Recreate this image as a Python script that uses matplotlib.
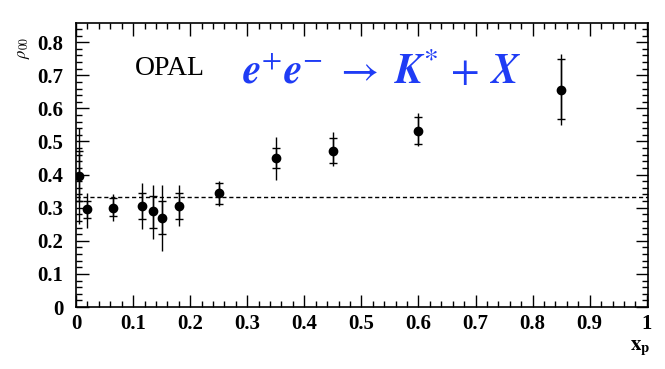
import numpy as np
import matplotlib
matplotlib.use("Agg")
import matplotlib.pyplot as plt
from matplotlib.ticker import MultipleLocator

# rho_00 vs x_p (OPAL K*)
xp        = [0.005, 0.02, 0.065, 0.115, 0.135, 0.15, 0.18, 0.25, 0.35, 0.45, 0.60, 0.85]
rho       = [0.395, 0.295, 0.300, 0.305, 0.290, 0.270, 0.305, 0.345, 0.450, 0.470, 0.532, 0.657]
stat_lo   = [0.320, 0.270, 0.275, 0.265, 0.240, 0.220, 0.265, 0.310, 0.420, 0.435, 0.491, 0.567]
stat_hi   = [0.470, 0.320, 0.330, 0.345, 0.335, 0.320, 0.345, 0.375, 0.480, 0.510, 0.574, 0.749]
tot_lo    = [0.250, 0.240, 0.260, 0.235, 0.205, 0.170, 0.245, 0.305, 0.385, 0.425, 0.485, 0.551]
tot_hi    = [0.540, 0.345, 0.340, 0.375, 0.370, 0.370, 0.370, 0.380, 0.515, 0.530, 0.585, 0.765]
rho_unpol = 1.0 / 3.0

xp = np.array(xp); rho = np.array(rho)
stat_err = [rho - np.array(stat_lo), np.array(stat_hi) - rho]
tot_err = [rho - np.array(tot_lo), np.array(tot_hi) - rho]

serif = "Liberation Serif"
fig = plt.figure(figsize=(6.65, 3.69), dpi=100)
ax = fig.add_axes([0.1143, 0.168, 0.86, 0.7697])

ax.axhline(rho_unpol, color="black", lw=1.0, ls=(0, (3, 2)))
ax.errorbar(xp, rho, yerr=tot_err, fmt="none", ecolor="black", elinewidth=1.0)
ax.errorbar(xp, rho, yerr=stat_err, fmt="o", color="black", ms=6,
            ecolor="black", elinewidth=1.0, capsize=3, capthick=1.0)

ax.set_xlim(0, 1.002)
ax.set_ylim(0, 0.858)
ax.xaxis.set_minor_locator(MultipleLocator(0.02))
ax.yaxis.set_minor_locator(MultipleLocator(0.02))
ax.tick_params(which="both", direction="in", top=True, right=True, width=1.0)
ax.tick_params(which="major", length=9)
ax.tick_params(which="minor", length=4)
for s in ax.spines.values():
    s.set_linewidth(1.2)

ax.set_xticks(np.arange(0, 1.01, 0.1))
ax.set_xticklabels(["0", "0.1", "0.2", "0.3", "0.4", "0.5", "0.6", "0.7", "0.8", "0.9", "1"])
ax.set_yticks(np.arange(0, 0.81, 0.1))
ax.set_yticklabels(["0", "0.1", "0.2", "0.3", "0.4", "0.5", "0.6", "0.7", "0.8"])
for lab in ax.get_xticklabels() + ax.get_yticklabels():
    lab.set_fontfamily(serif)
    lab.set_fontweight("bold")
    lab.set_fontsize(15)
ax.tick_params(axis="x", pad=5)
ax.tick_params(axis="y", pad=9)

fig.text(0.034, 0.90, r"$\rho_{00}$", rotation=90, ha="center", va="top",
         fontsize=12, math_fontfamily="stix")
fig.text(0.962, 0.03, r"$\mathbf{x}_\mathbf{p}$", ha="center", va="bottom",
         fontsize=15, math_fontfamily="stix")

ax.text(0.103, 0.72, "OPAL", fontsize=20, family=serif, ha="left", va="center")
ax.text(0.29, 0.71,
        r"$\mathbfit{e}^{+}\mathbfit{e}^{-}\ \rightarrow\ \mathbfit{K}^{*}\,+\,\mathbfit{X}$",
        fontsize=30, color="#1f3cf5", ha="left", va="center", math_fontfamily="stix")

fig.savefig("out.png", dpi=100)
